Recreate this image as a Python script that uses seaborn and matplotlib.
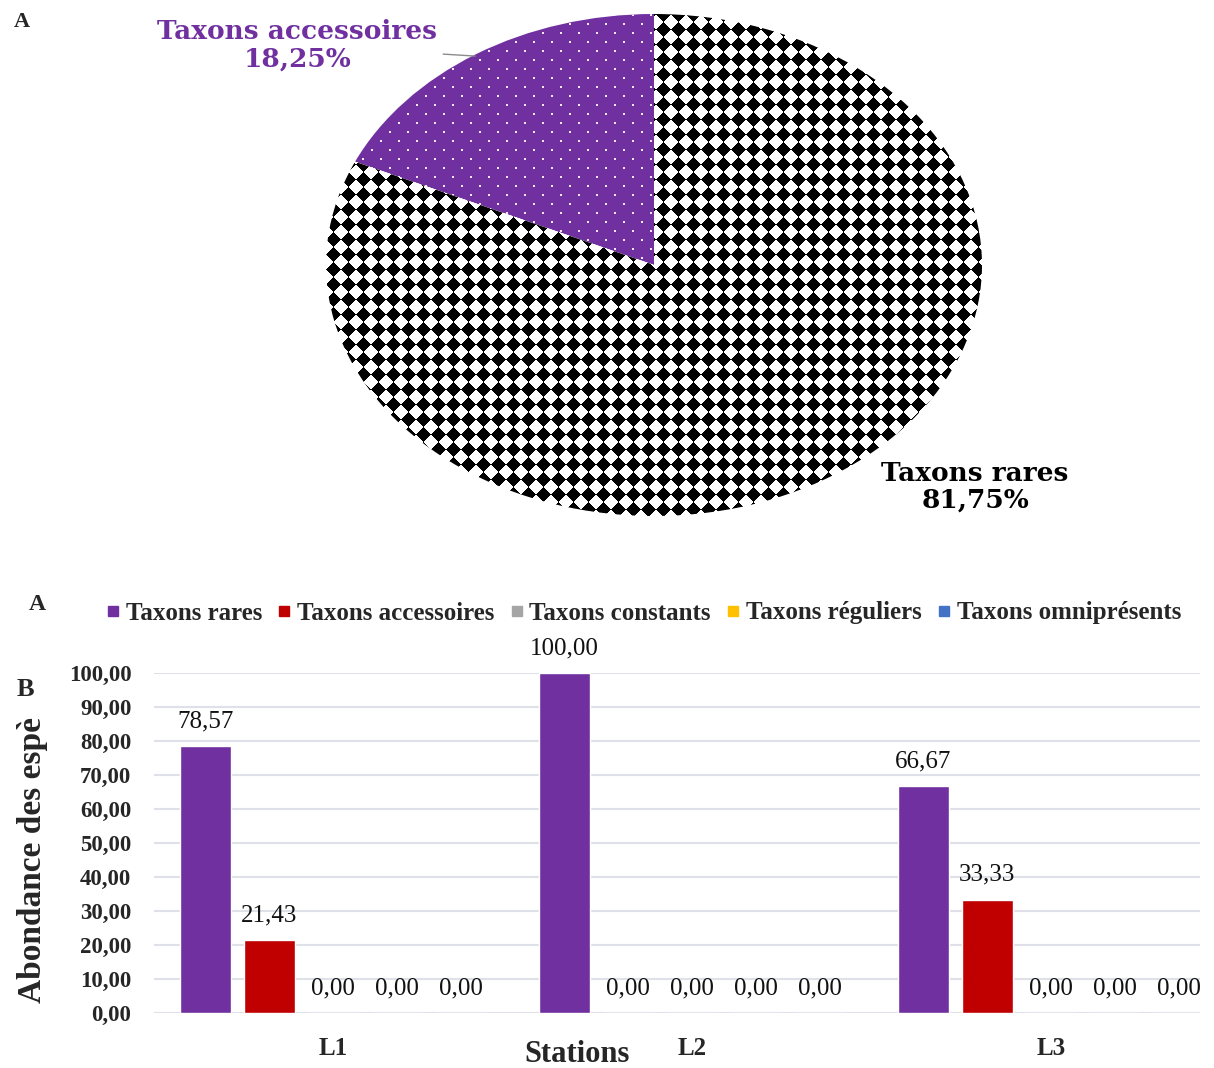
import matplotlib
matplotlib.use('Agg')
import matplotlib.pyplot as plt
import numpy as np
import pandas as pd
import seaborn as sns
from matplotlib.lines import Line2D

# A: pie data
pie_labels = ['Taxons accessoires', 'Taxons rares']
pie_values = [18.25, 81.75]
pie_pct = ['18,25%', '81,75%']

# B: bar data
stations = ['L1', 'L2', 'L3']
taxons = ['Taxons rares', 'Taxons accessoires', 'Taxons constants',
          'Taxons réguliers', 'Taxons omniprésents']
rares = [78.57, 100.00, 66.67]
accessoires = [21.43, 0.00, 33.33]
constants = [0.00, 0.00, 0.00]
reguliers = [0.00, 0.00, 0.00]
omnipresents = [0.00, 0.00, 0.00]
y_ticks = [0, 10, 20, 30, 40, 50, 60, 70, 80, 90, 100]

colors = ['#7030A0', '#C00000', '#A5A5A5', '#FFC000', '#4472C4']


def fr(v):
    return f'{v:.2f}'.replace('.', ',')


sns.set_theme(style='white')
plt.rcParams['font.family'] = ['Liberation Serif', 'DejaVu Serif']

W, H = 1214, 1068
fig = plt.figure(figsize=(W / 100, H / 100), dpi=100)

# ---- A: pie (elliptical)
ax1 = fig.add_axes([326 / W, 1 - 516 / H, 656 / W, 502 / H])
wedges, _ = ax1.pie(pie_values, colors=[colors[0], 'white'], startangle=90,
                    counterclock=True, wedgeprops=dict(linewidth=0))
ax1.set_aspect('auto')

# textures: small white dots on purple, black diamond checker on white
yy, xx = np.mgrid[0:502, 0:656]
dots = np.zeros((502, 656, 4))
on = (yy % 9 < 2) & ((xx + (yy // 9 % 2) * 9) % 18 < 2)
dots[on] = [1, 1, 1, 0.9]
img_dots = ax1.imshow(dots, extent=(-1, 1, -1, 1), aspect='auto',
                      interpolation='nearest', zorder=1.5)
img_dots.set_clip_path(wedges[0])

s = 15
pattern = (np.floor((xx + yy) / s) + np.floor((xx - yy) / s)) % 2
img = ax1.imshow(pattern, cmap='gray', extent=(-1, 1, -1, 1), aspect='auto',
                 interpolation='nearest', zorder=1.5)
img.set_clip_path(wedges[1])
ax1.set_xlim(-1, 1)
ax1.set_ylim(-1, 1)
ax1.axis('off')

mid = np.deg2rad(90 + pie_values[0] / 100 * 360 / 2)
ax1.annotate(pie_labels[0] + '\n' + pie_pct[0], xy=(0.99 * np.cos(mid), 0.99 * np.sin(mid)),
             xytext=(-1.088, 0.876), ha='center', va='center', color=colors[0],
             fontsize=19, fontweight='bold', family='DejaVu Serif', linespacing=1.1,
             arrowprops=dict(arrowstyle='-', color='#8c8c8c', lw=1),
             annotation_clip=False)
ax1.text(0.979, -0.884, pie_labels[1] + '\n' + pie_pct[1], ha='center', va='center',
         color='black', fontsize=19, fontweight='bold', family='DejaVu Serif',
         linespacing=1.1)

# ---- B: grouped bars
rows = []
for taxon, vals in zip(taxons, [rares, accessoires, constants, reguliers, omnipresents]):
    for st, v in zip(stations, vals):
        rows.append({'Station': st, 'Taxon': taxon, 'Abondance': v})
df = pd.DataFrame(rows)

ax2 = fig.add_axes([153.5 / W, 1 - 1013 / H, (1200 - 153.5) / W, 340 / H])
sns.barplot(data=df, x='Station', y='Abondance', hue='Taxon', hue_order=taxons,
            palette=colors, saturation=1, width=0.89, gap=0.2, ax=ax2, legend=False)
ax2.set_ylim(0, 100)
ax2.set_xlim(-0.5, 2.415)
ax2.set_yticks(y_ticks)
ax2.set_yticklabels([fr(v) for v in y_ticks], fontsize=16.5, fontweight='bold')
ax2.set_xticks(range(len(stations)))
ax2.set_xticklabels(stations, fontsize=18, fontweight='bold')
ax2.yaxis.grid(True, color='#DEE1E8', lw=1.5)
ax2.set_axisbelow(True)
sns.despine(ax=ax2, left=True, bottom=True)
ax2.tick_params(axis='y', length=0, pad=16)
ax2.tick_params(axis='x', length=0, pad=17)
ax2.set_xlabel('')
ax2.set_ylabel('')

for c in ax2.containers:
    ax2.bar_label(c, labels=[fr(v) for v in c.datavalues], padding=10,
                  fontsize=18, color='#111111', clip_on=False)

handles = [Line2D([], [], marker='s', ls='', color=c, markersize=7) for c in colors]
fig.legend(handles, taxons, loc='center', bbox_to_anchor=(642 / W, 1 - 613 / H),
           ncol=5, frameon=False, handletextpad=0.1, columnspacing=0.5,
           handlelength=0.8, prop=dict(size=18, weight='bold'))

fig.text(577 / W, 1 - 1055 / H, 'Stations', ha='center', va='center',
         fontsize=22, fontweight='bold')
fig.text(33 / W, 1 - 1003 / H, 'Abondance des espè', rotation=90, ha='center',
         va='bottom', fontsize=24, fontweight='bold')

fig.text(22 / W, 1 - 22 / H, 'A', ha='center', va='center', fontsize=16, fontweight='bold')
fig.text(37 / W, 1 - 604 / H, 'A', ha='center', va='center', fontsize=17, fontweight='bold')
fig.text(25 / W, 1 - 690 / H, 'B', ha='center', va='center', fontsize=19, fontweight='bold')

fig.savefig('out.png', dpi=100)
